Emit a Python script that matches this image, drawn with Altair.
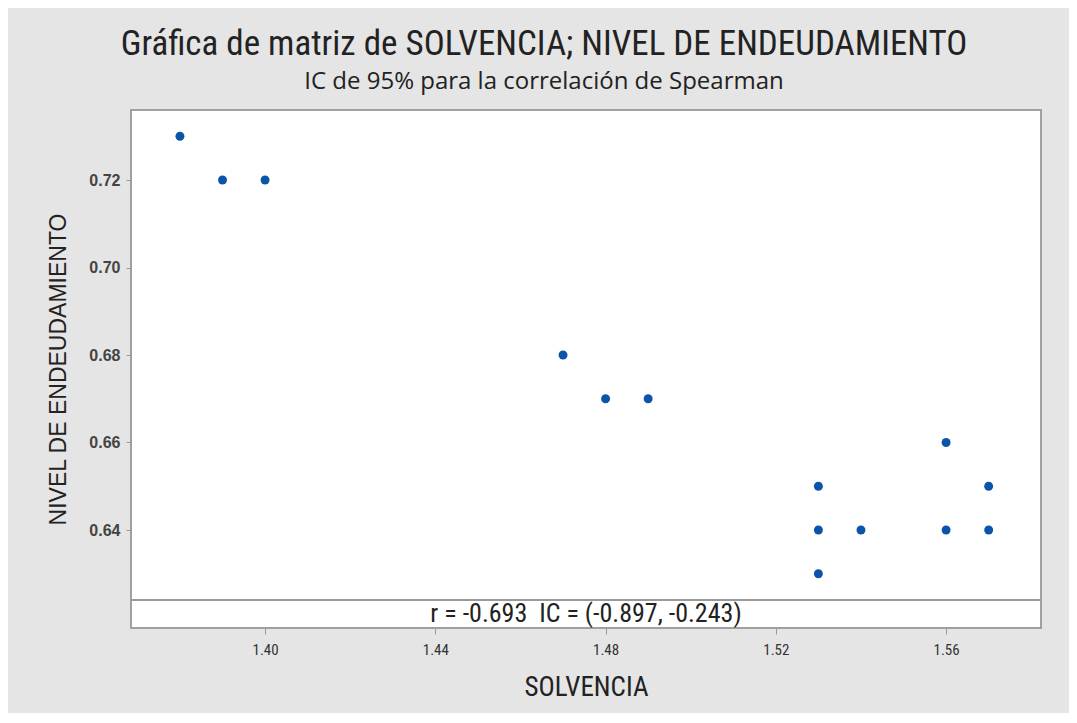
import altair as alt
import pandas as pd

# Data
solvencia = [1.38, 1.39, 1.40, 1.47, 1.48, 1.49, 1.53, 1.53, 1.53, 1.54, 1.56, 1.56, 1.57, 1.57]
endeudamiento = [0.73, 0.72, 0.72, 0.68, 0.67, 0.67, 0.65, 0.64, 0.63, 0.64, 0.66, 0.64, 0.65, 0.64]

x_ticks = [1.40, 1.44, 1.48, 1.52, 1.56]
y_ticks = [0.64, 0.66, 0.68, 0.70, 0.72]
x_domain = [1.3685, 1.5823]
y_domain = [0.6176, 0.736]

ci_band_top = 0.624          # separator of the correlation box (data units)
ci_text_y = 0.6208
ci_text = "r = -0.693\u00a0\u00a0IC = (-0.897, -0.243)"

title_text = "Gráfica de matriz de SOLVENCIA; NIVEL DE ENDEUDAMIENTO"
subtitle_text = "IC de 95% para la correlación de Spearman"

df = pd.DataFrame({"SOLVENCIA": solvencia, "NIVEL DE ENDEUDAMIENTO": endeudamiento})

NARROW = "Roboto Condensed, Liberation Sans Narrow, Liberation Sans, sans-serif"

x_enc = alt.X(
    "SOLVENCIA:Q",
    scale=alt.Scale(domain=x_domain, nice=False, zero=False),
    axis=alt.Axis(
        values=x_ticks, format=".2f", title="SOLVENCIA", grid=False, domain=False,
        tickColor="#9a9a9a", tickSize=6, labelFont=NARROW, labelFontSize=15,
        labelColor="#333333", labelPadding=8, titleFont=NARROW, titleFontSize=27,
        titleFontWeight="normal", titleColor="#222222", titlePadding=17,
    ),
)
y_enc = alt.Y(
    "NIVEL DE ENDEUDAMIENTO:Q",
    scale=alt.Scale(domain=y_domain, nice=False, zero=False),
    axis=alt.Axis(
        values=y_ticks, format=".2f", title="NIVEL DE ENDEUDAMIENTO", grid=False,
        domain=False, tickColor="#9a9a9a", tickSize=5, labelFont="Liberation Sans",
        labelFontSize=16, labelFontWeight="bold", labelColor="#444444", labelPadding=6,
        titleFont="Liberation Sans", titleFontSize=23, titleFontWeight="normal",
        titleColor="#222222", titlePadding=18,
    ),
)

points = alt.Chart(df).mark_circle(size=80, color="#0b55a8", opacity=1).encode(x=x_enc, y=y_enc)

sep = alt.Chart(pd.DataFrame({"y": [ci_band_top]})).mark_rule(
    color="#9a9a9a", strokeWidth=2
).encode(y=alt.Y("y:Q", scale=alt.Scale(domain=y_domain, nice=False, zero=False)))

ci_df = pd.DataFrame({"x": [(x_domain[0] + x_domain[1]) / 2], "y": [ci_text_y], "t": [ci_text]})
ci_label = alt.Chart(ci_df).mark_text(
    font=NARROW, fontSize=26, color="#222222", baseline="middle", align="center"
).encode(
    x=alt.X("x:Q", scale=alt.Scale(domain=x_domain, nice=False, zero=False)),
    y=alt.Y("y:Q", scale=alt.Scale(domain=y_domain, nice=False, zero=False)),
    text="t:N",
)

chart = alt.layer(points, sep, ci_label).properties(
    width=910,
    height=518,
    background="#e5e5e5",
    padding={"left": 123, "top": 102, "right": 28, "bottom": 85},
    autosize=alt.AutoSizeParams(type="none"),
    title=alt.TitleParams(
        text=title_text,
        subtitle=subtitle_text,
        anchor="middle",
        dx=-42,
        offset=16,
        font=NARROW,
        fontSize=35,
        fontWeight="normal",
        color="#222222",
        subtitleFont="Open Sans",
        subtitleFontSize=24,
        subtitleColor="#222222",
        subtitlePadding=8,
    ),
).configure_view(
    stroke="#a0a0a0", strokeWidth=2, fill="white"
)

chart.save("out.html", embed_options={"renderer": "svg", "actions": False})
